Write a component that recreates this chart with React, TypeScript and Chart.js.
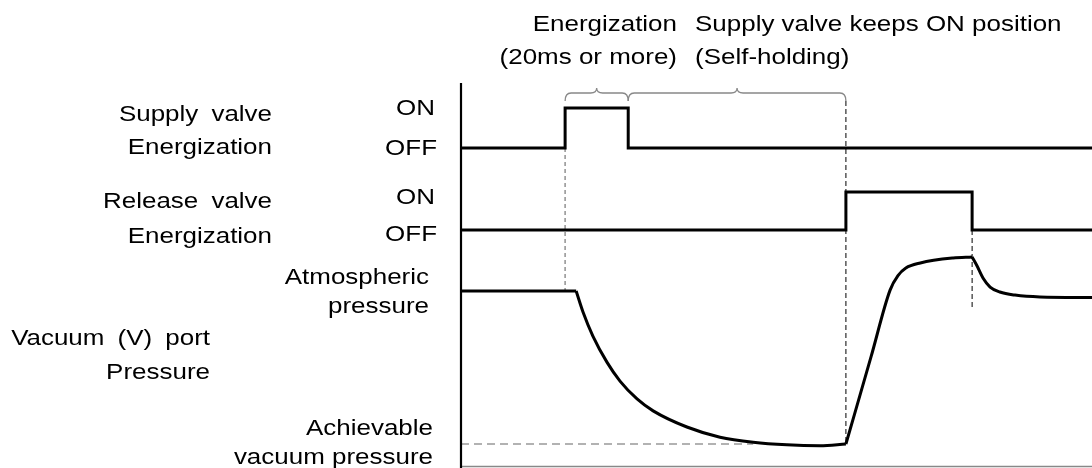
import React, { useEffect, useRef } from "react";
import { Chart, registerables } from "chart.js";

Chart.register(...registerables);

// ---------- data (time in ms, pressure in kPa gauge) ----------
const TIME_MIN = 0;
const TIME_MAX = 200;

const SUPPLY_TIMES = [0, 33, 53, 200];
const SUPPLY_STATES = [0, 1, 0, 0];

const RELEASE_TIMES = [0, 122, 162, 200];
const RELEASE_STATES = [0, 1, 0, 0];

const PRESSURE_TIMES = [
  0, 36.5, 38.7, 41.8, 46.3, 50.4, 55.8, 60.9, 71.6, 82.1, 92.6, 103.3, 113.8,
  122, 130, 136, 138.5, 141, 145.6, 156, 162, 163.5, 165.5, 167.7, 170.8,
  175.6, 183.5, 200,
];
const PRESSURE_KPA = [
  0, 0, -12.5, -26.5, -42, -53, -63.5, -70.5, -80, -86, -89, -90.5, -91, -90,
  -38.5, 0.5, 9, 13.5, 16.5, 19.4, 20, 15, 7.5, 2.3, -0.6, -2.4, -3.5, -3.8,
];
// instants where the pressure curve has a sharp corner
const PRESSURE_CORNERS = [36.5, 122, 162];

const ATMOSPHERIC_KPA = 0;
const ACHIEVABLE_KPA = -90;
const ACHIEVABLE_GUIDE_END = 92.6;
const RELEASE_OFF_GUIDE_END_KPA = -9.5;

// brace spans (ms)
const BRACE_SPANS = [
  [33, 53],
  [53, 122],
];

const TOP_NOTES_LEFT = ["Energization", "(20ms or more)"];
const TOP_NOTES_RIGHT = ["Supply valve keeps ON position", "(Self-holding)"];
const SUPPLY_LABEL = ["Supply valve", "Energization"];
const RELEASE_LABEL = ["Release valve", "Energization"];
const STATE_LABELS = ["ON", "OFF"];
const ATM_LABEL = ["Atmospheric", "pressure"];
const PORT_LABEL = ["Vacuum (V) port", "Pressure"];
const ACH_LABEL = ["Achievable", "vacuum pressure"];

// ---------- layout ----------
const W = 1092;
const H = 468;
const AREA_LEFT = 461;
const AREA_TOP = 83;
const AREA_BOTTOM = 467;
const FONT = '22px "Liberation Sans", Arial, sans-serif';
const STRETCH = 1.18;

function span(v1: number, p1: number, v2: number, p2: number) {
  const k = (p1 - p2) / (v2 - v1);
  return { min: v1 - (AREA_BOTTOM - p1) / k, max: v1 + (p1 - AREA_TOP) / k };
}

const SUP_RANGE = span(0, 148, 1, 108);
const REL_RANGE = span(0, 230, 1, 192);
const P_RANGE = span(0, 291, -90, 444);

function pts(ts: number[], vs: number[]) {
  return ts.map((t, i) => ({ x: t, y: vs[i] }));
}

function pressureSegments() {
  const bounds = [TIME_MIN, ...PRESSURE_CORNERS, TIME_MAX];
  const segs: { x: number; y: number }[][] = [];
  for (let i = 0; i < bounds.length - 1; i++) {
    const a = bounds[i];
    const b = bounds[i + 1];
    const seg: { x: number; y: number }[] = [];
    PRESSURE_TIMES.forEach((t, j) => {
      if (t >= a && t <= b) seg.push({ x: t, y: PRESSURE_KPA[j] });
    });
    segs.push(seg);
  }
  return segs;
}

function stretchedText(
  ctx: CanvasRenderingContext2D,
  text: string,
  x: number,
  y: number,
  align: CanvasTextAlign,
  wordGap = 0
) {
  ctx.save();
  ctx.translate(x, y);
  ctx.scale(STRETCH, 1);
  ctx.textAlign = align;
  ctx.textBaseline = "alphabetic";
  (ctx as any).wordSpacing = wordGap + "px";
  ctx.fillText(text, 0, 0);
  ctx.restore();
}

const BRACE_GAP = 7;
const BRACE_H = 8;
const BRACE_TIP = 5;

function drawBrace(ctx: CanvasRenderingContext2D, x1: number, x2: number, yEnd: number) {
  const yTop = yEnd - BRACE_H;
  const xm = (x1 + x2) / 2;
  const r = 6;
  ctx.beginPath();
  ctx.moveTo(x1, yEnd);
  ctx.quadraticCurveTo(x1, yTop, x1 + r, yTop);
  ctx.lineTo(xm - r, yTop);
  ctx.quadraticCurveTo(xm, yTop, xm, yTop - BRACE_TIP);
  ctx.quadraticCurveTo(xm, yTop, xm + r, yTop);
  ctx.lineTo(x2 - r, yTop);
  ctx.quadraticCurveTo(x2, yTop, x2, yEnd);
  ctx.stroke();
}

const diagramPlugin = {
  id: "diagram",
  beforeDatasetsDraw(chart: any) {
    const ctx: CanvasRenderingContext2D = chart.ctx;
    const x = chart.scales.x;
    const ys = chart.scales.ySup;
    const yr = chart.scales.yRel;
    const yp = chart.scales.yP;
    ctx.save();
    // supply-on guide
    ctx.strokeStyle = "#999";
    ctx.lineWidth = 1.6;
    ctx.setLineDash([4, 3]);
    ctx.beginPath();
    ctx.moveTo(x.getPixelForValue(SUPPLY_TIMES[1]), ys.getPixelForValue(0));
    ctx.lineTo(x.getPixelForValue(SUPPLY_TIMES[1]), yp.getPixelForValue(ATMOSPHERIC_KPA));
    ctx.stroke();
    // achievable vacuum guide
    ctx.setLineDash([8, 5]);
    ctx.beginPath();
    ctx.moveTo(chart.chartArea.left, yp.getPixelForValue(ACHIEVABLE_KPA));
    ctx.lineTo(x.getPixelForValue(ACHIEVABLE_GUIDE_END), yp.getPixelForValue(ACHIEVABLE_KPA));
    ctx.stroke();
    // release-on guide
    ctx.strokeStyle = "#000";
    ctx.lineWidth = 1;
    ctx.setLineDash([5, 3]);
    const xr = x.getPixelForValue(RELEASE_TIMES[1]);
    ctx.beginPath();
    ctx.moveTo(xr, ys.getPixelForValue(1) - BRACE_GAP);
    ctx.lineTo(xr, yp.getPixelForValue(ACHIEVABLE_KPA));
    ctx.stroke();
    // release-off guide
    const xo = x.getPixelForValue(RELEASE_TIMES[2]);
    ctx.beginPath();
    ctx.moveTo(xo, yr.getPixelForValue(0));
    ctx.lineTo(xo, yp.getPixelForValue(RELEASE_OFF_GUIDE_END_KPA));
    ctx.stroke();
    ctx.restore();
  },
  afterDatasetsDraw(chart: any) {
    const ctx: CanvasRenderingContext2D = chart.ctx;
    const { left, top, right, bottom } = chart.chartArea;
    const x = chart.scales.x;
    const ys = chart.scales.ySup;
    ctx.save();
    // axes
    ctx.setLineDash([]);
    ctx.strokeStyle = "#888";
    ctx.lineWidth = 1.5;
    ctx.beginPath();
    ctx.moveTo(left, bottom - 0.5);
    ctx.lineTo(right, bottom - 0.5);
    ctx.stroke();
    ctx.strokeStyle = "#000";
    ctx.lineWidth = 2.2;
    ctx.beginPath();
    ctx.moveTo(left, top);
    ctx.lineTo(left, H);
    ctx.stroke();
    // braces
    ctx.strokeStyle = "#888";
    ctx.lineWidth = 1.3;
    const yEnd = ys.getPixelForValue(1) - BRACE_GAP;
    BRACE_SPANS.forEach(([a, b]) => drawBrace(ctx, x.getPixelForValue(a), x.getPixelForValue(b), yEnd));
    // texts
    ctx.fillStyle = "#000";
    ctx.font = FONT;
    stretchedText(ctx, TOP_NOTES_LEFT[0], 677, 31, "right");
    stretchedText(ctx, TOP_NOTES_LEFT[1], 677, 64, "right");
    stretchedText(ctx, TOP_NOTES_RIGHT[0], 695, 31, "left");
    stretchedText(ctx, TOP_NOTES_RIGHT[1], 695, 64, "left");
    stretchedText(ctx, SUPPLY_LABEL[0], 272, 121, "right", 5);
    stretchedText(ctx, SUPPLY_LABEL[1], 272, 154, "right");
    stretchedText(ctx, STATE_LABELS[0], 435, 115, "right");
    stretchedText(ctx, STATE_LABELS[1], 437, 155, "right");
    stretchedText(ctx, RELEASE_LABEL[0], 272, 208, "right", 5);
    stretchedText(ctx, RELEASE_LABEL[1], 272, 243, "right");
    stretchedText(ctx, STATE_LABELS[0], 435, 204, "right");
    stretchedText(ctx, STATE_LABELS[1], 437, 241, "right");
    stretchedText(ctx, ATM_LABEL[0], 429, 284, "right");
    stretchedText(ctx, ATM_LABEL[1], 429, 313, "right");
    stretchedText(ctx, PORT_LABEL[0], 210, 345, "right", 5);
    stretchedText(ctx, PORT_LABEL[1], 210, 379, "right");
    stretchedText(ctx, ACH_LABEL[0], 433, 435, "right");
    stretchedText(ctx, ACH_LABEL[1], 433, 464, "right");
    ctx.restore();
  },
};

export default function App() {
  const ref = useRef<HTMLCanvasElement | null>(null);
  useEffect(() => {
    if (!ref.current) return;
    const lineStyle = {
      borderColor: "#000",
      borderWidth: 3,
      pointRadius: 0,
      fill: false,
      borderJoinStyle: "miter" as const,
      borderCapStyle: "butt" as const,
    };
    const pressureDatasets = pressureSegments().map((seg, i) => ({
      label: "Pressure " + i,
      data: seg,
      yAxisID: "yP",
      cubicInterpolationMode: "monotone" as const,
      ...lineStyle,
      borderJoinStyle: "round" as const,
    }));
    const chart = new Chart(ref.current, {
      type: "line",
      data: {
        datasets: [
          {
            label: "Supply valve",
            data: pts(SUPPLY_TIMES, SUPPLY_STATES),
            yAxisID: "ySup",
            stepped: "before",
            ...lineStyle,
          },
          {
            label: "Release valve",
            data: pts(RELEASE_TIMES, RELEASE_STATES),
            yAxisID: "yRel",
            stepped: "before",
            ...lineStyle,
          },
          ...pressureDatasets,
        ] as any,
      },
      options: {
        animation: false,
        responsive: false,
        events: [],
        layout: { padding: { left: AREA_LEFT, top: AREA_TOP, right: 0, bottom: H - AREA_BOTTOM } },
        plugins: { legend: { display: false }, tooltip: { enabled: false } },
        scales: {
          x: { type: "linear", min: TIME_MIN, max: TIME_MAX, display: false },
          ySup: { type: "linear", min: SUP_RANGE.min, max: SUP_RANGE.max, display: false },
          yRel: { type: "linear", min: REL_RANGE.min, max: REL_RANGE.max, display: false },
          yP: { type: "linear", min: P_RANGE.min, max: P_RANGE.max, display: false },
        },
      },
      plugins: [diagramPlugin],
    });
    return () => chart.destroy();
  }, []);
  return (
    <div style={{ position: "fixed", left: 0, top: 0, width: W, height: H, background: "#fff" }}>
      <canvas ref={ref} width={W} height={H} style={{ display: "block" }} />
    </div>
  );
}
